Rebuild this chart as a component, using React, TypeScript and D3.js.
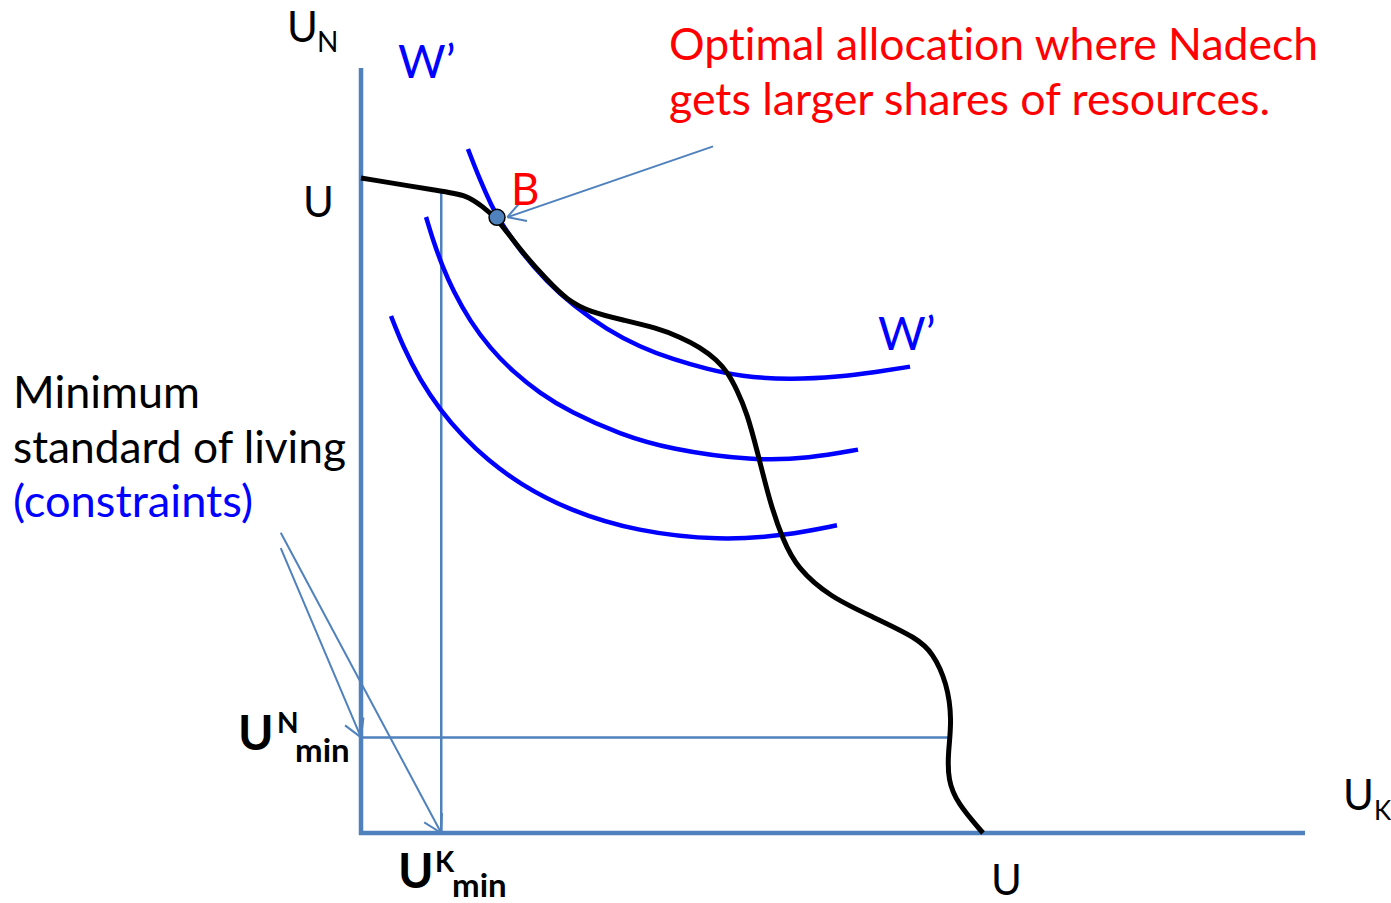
import React from "react";
import * as d3 from "d3";

// utility possibility frontier (U_K, U_N)
const ppfCurve: [number, number][] = [
  [0, 68.5], [8.37, 67.14], [11.23, 66.72], [12.92, 65.46], [14.41, 64.31], [16.84, 60.97],
  [19.7, 57.83], [21.82, 55.74], [24.26, 54.48], [27.75, 53.65], [31.36, 52.81], [33.79, 51.87],
  [35.91, 50.82], [37.71, 49.46], [38.88, 48.1], [39.83, 46.33], [40.89, 43.92], [41.95, 40.05],
  [43.33, 34.51], [44.7, 30.64], [46.19, 27.71], [49.68, 24.68], [54.24, 22.59], [58.9, 20.39],
  [60.59, 18.82], [62.08, 15.69], [62.61, 11.82], [62.18, 8.37], [62.18, 5.54], [63.14, 3.14],
  [65.89, 0],
];

// social welfare contours W'
const welfareHigh: [number, number][] = [
  [11.33, 71.53], [12.61, 68.27], [13.88, 65.51], [14.41, 64.48], [16.84, 60.87], [19.7, 57.63],
  [22.46, 55.18], [26.06, 52.62], [29.56, 50.82], [33.05, 49.52], [36.65, 48.52], [40.15, 47.76],
  [45.44, 47.39], [50.74, 47.71], [54.24, 48.16], [58.16, 48.77],
];
const welfareMid: [number, number][] = [
  [6.89, 64.42], [7.63, 62.0], [8.58, 59.37], [9.75, 56.72], [11.55, 53.52], [13.67, 50.7],
  [16.1, 48.24], [18.96, 45.98], [22.14, 44.04], [27.44, 41.69], [32.73, 40.12], [41.53, 38.9],
  [47.56, 39.19], [52.65, 40.09],
];
const welfareLow: [number, number][] = [
  [3.18, 54.07], [4.45, 50.87], [6.25, 47.39], [8.37, 44.26], [10.81, 41.44], [13.35, 39.06],
  [16.84, 36.47], [22.14, 33.69], [29.24, 31.52], [38.03, 30.57], [45.13, 31.13], [50.42, 32.18],
];

const optimumB: [number, number] = [14.41, 64.38];
const minK = 8.5;
const minN = 10;
const minKReach = 67.1; // where the U^K_min line meets the frontier
const minNReach = 62.5; // where the U^N_min line meets the frontier

const noteArrow: [number, number][] = [[37.3, 71.8], [15.5, 64.4]];
const constraintArrows: [number, number][][] = [
  [[-8.5, 29.8], [0, minN]],
  [[-8.5, 31.4], [minK, 0]],
];

const W = 1391;
const H = 903;
const FONT = "Lato, 'Open Sans', sans-serif";
const AXIS = "#4f81bd";

const x = d3.scaleLinear().domain([0, 100]).range([361, 1305]);
const y = d3.scaleLinear().domain([0, 80]).range([833, 68]);

// B-spline keeps the hand-read points smooth
const smoothLine = d3
  .line<[number, number]>()
  .x((d) => x(d[0]))
  .y((d) => y(d[1]))
  .curve(d3.curveBasis);

function Arrow({ from, to }: { from: [number, number]; to: [number, number] }) {
  const x1 = x(from[0]), y1 = y(from[1]);
  const x2 = x(to[0]), y2 = y(to[1]);
  const a = Math.atan2(y1 - y2, x1 - x2);
  const len = 20, spread = Math.PI / 6;
  const head = [a - spread, a + spread]
    .map((t) => `M${x2 + len * Math.cos(t)},${y2 + len * Math.sin(t)}L${x2},${y2}`)
    .join("");
  return (
    <g stroke={AXIS} strokeWidth={2} fill="none">
      <line x1={x1} y1={y1} x2={x2} y2={y2} />
      <path d={head} />
    </g>
  );
}

export default function App() {
  return (
    <svg
      width={W}
      height={H}
      style={{ position: "absolute", left: 0, top: 0, background: "#fff", fontVariantLigatures: "none" }}
      fontFamily={FONT}
    >
      {/* minimum standard reference lines */}
      <line x1={x(minK)} y1={y(0)} x2={x(minK)} y2={y(minKReach)} stroke={AXIS} strokeWidth={2.5} />
      <line x1={x(0)} y1={y(minN)} x2={x(minNReach)} y2={y(minN)} stroke={AXIS} strokeWidth={2.5} />

      {/* axes */}
      <line x1={x(0)} y1={y(0) + 2} x2={x(0)} y2={y(80)} stroke={AXIS} strokeWidth={4.5} />
      <line x1={x(0) - 2} y1={y(0)} x2={x(100)} y2={y(0)} stroke={AXIS} strokeWidth={4.5} />

      {/* welfare contours */}
      {[welfareLow, welfareMid, welfareHigh].map((c, i) => (
        <path key={i} d={smoothLine(c) ?? ""} fill="none" stroke="#0000ff" strokeWidth={4.5} />
      ))}

      {/* frontier */}
      <path d={smoothLine(ppfCurve) ?? ""} fill="none" stroke="#000" strokeWidth={5} />

      {/* arrows */}
      <Arrow from={noteArrow[0]} to={noteArrow[1]} />
      {constraintArrows.map((a, i) => (
        <Arrow key={i} from={a[0]} to={a[1]} />
      ))}

      <circle cx={x(optimumB[0])} cy={y(optimumB[1])} r={8} fill={AXIS} stroke="#000" strokeWidth={1.5} />

      {/* axis labels */}
      <text fontSize={42}>
        <tspan x={287} y={42}>U</tspan>
        <tspan x={317} y={52} fontSize={28}>N</tspan>
      </text>
      <text fontSize={42}>
        <tspan x={1343} y={810}>U</tspan>
        <tspan x={1374} y={820} fontSize={26}>K</tspan>
      </text>
      <text x={303} y={217} fontSize={42}>U</text>
      <text x={991} y={895} fontSize={42}>U</text>

      <text x={398} y={78} fontSize={46} fill="#0000ff">W’</text>
      <text x={878} y={350} fontSize={46} fill="#0000ff">W’</text>
      <text x={511} y={205} fontSize={44} fill="#ff0000">B</text>

      <text x={669} y={60} fontSize={44} fill="#ff0000" textLength={649} lengthAdjust="spacingAndGlyphs">
        Optimal allocation where Nadech
      </text>
      <text x={669} y={115} fontSize={44} fill="#ff0000" textLength={601} lengthAdjust="spacingAndGlyphs">
        gets larger shares of resources.
      </text>

      <text x={13} y={408} fontSize={44} textLength={187} lengthAdjust="spacingAndGlyphs">Minimum</text>
      <text x={13} y={463} fontSize={44} textLength={333} lengthAdjust="spacingAndGlyphs">
        standard of living
      </text>
      <text x={13} y={517} fontSize={44} fill="#0000ff" textLength={240} lengthAdjust="spacingAndGlyphs">
        (constraints)
      </text>

      <g fontWeight="bold">
        <text fontSize={48}>
          <tspan x={238} y={750}>U</tspan>
          <tspan x={277} y={733} fontSize={28}>N</tspan>
          <tspan x={295} y={762} fontSize={33}>min</tspan>
        </text>
        <text fontSize={48}>
          <tspan x={398} y={888}>U</tspan>
          <tspan x={435} y={872} fontSize={28}>K</tspan>
          <tspan x={452} y={897} fontSize={33}>min</tspan>
        </text>
      </g>
    </svg>
  );
}
